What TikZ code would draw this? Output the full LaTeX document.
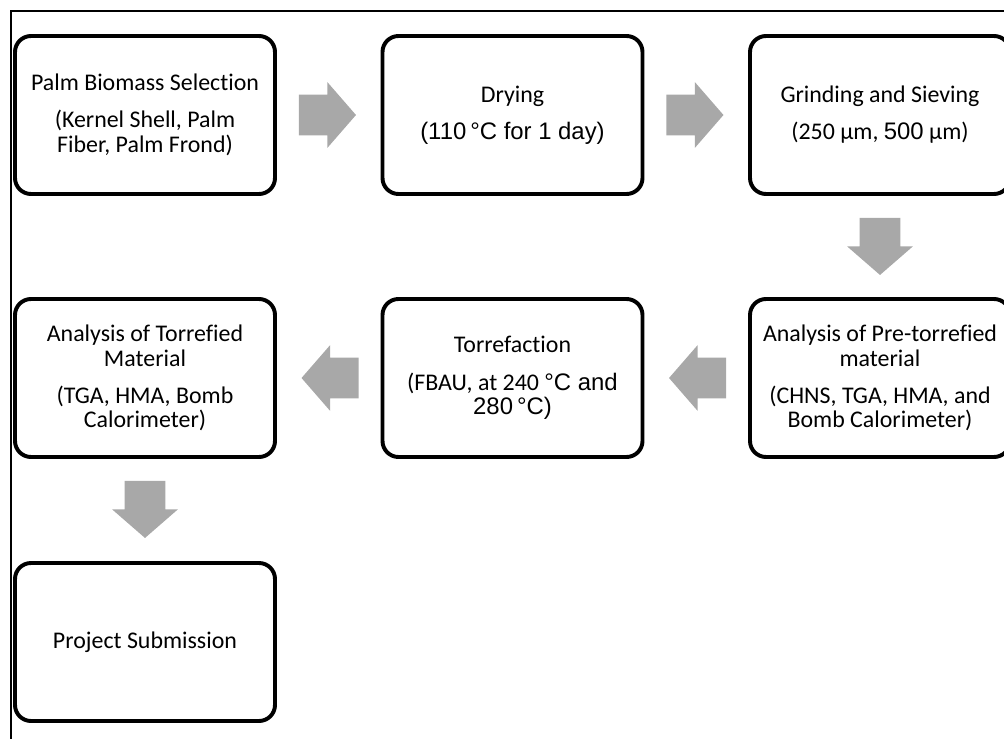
\documentclass[tikz,border=0pt]{standalone}
\usepackage{fontspec}
\setmainfont{Carlito}[Ligatures=NoCommon]
\newfontfamily\arialfont{Liberation Sans}
\usepackage{tikz}
\usetikzlibrary{calc}
\usetikzlibrary{shapes.arrows}
\definecolor{arrowGray}{RGB}{168,168,168}
\tikzset{
  stageBox/.style={%
    draw, line width=2.8pt, rounded corners=0.4cm,
    minimum width=6.5cm, minimum height=3.95cm,
    align=center, inner sep=0pt,
    font=\fontsize{17}{17.5}\selectfont,
  },
  blockArrow/.style={%
    single arrow, fill=arrowGray, draw=none,
    inner xsep=0pt, inner ysep=0.5cm, outer sep=0pt,
    minimum height=1.425cm, anchor=tail,
    single arrow head extend=0.3125cm, single arrow tip angle=98,
  }
}

\begin{document}
\begin{tikzpicture}
          \useasboundingbox (0,0) rectangle (25.1,-18.475);
          \clip (0,0) rectangle (25.1,-18.475);

          % frame
          \draw[line width=1.4pt] (25.2,-0.275) -- (0.275,-0.275) -- (0.275,-18.6);

          \node[stageBox] (selection) at (3.625,-2.875)
            {Palm Biomass Selection\\[9pt](Kernel Shell, Palm\\Fiber, Palm Frond)};
          \node[stageBox] (drying) at (12.8125,-2.875)
            {Drying\\[9pt]{\arialfont (110\,°C for 1 day)}};
          \node[stageBox] (grinding) at (22.0,-2.875)
            {Grinding and Sieving\\[9pt](250 µm, {\arialfont 500} µm)};
          \node[stageBox] (preAnalysis) at (22.0,-9.45)
            {Analysis of Pre-torrefied\\material\\[9pt](CHNS, TGA, HMA, and\\Bomb Calorimeter)};
          \node[stageBox] (torrefaction) at (12.8125,-9.45)
            {Torrefaction\\[9pt](FBAU, at 240 {\arialfont °C and}\\{\arialfont 280\,°C)}};
          \node[stageBox] (postAnalysis) at (3.625,-9.45)
            {Analysis of Torrefied\\Material\\[9pt](TGA, HMA, Bomb\\Calorimeter)};
          \node[stageBox] (submission) at (3.625,-16.05)
            {Project Submission};

          \node[blockArrow] (a1) at ($(selection.east)+(0.55,0)$) {};
          \node[blockArrow] (a2) at ($(drying.east)+(0.55,0)$) {};
          \node[blockArrow,rotate=-90] (a3) at ($(grinding.south)+(0,-0.55)$) {};
          \node[blockArrow,rotate=180] (a4) at ($(preAnalysis.west)+(-0.55,0)$) {};
          \node[blockArrow,rotate=180] (a5) at ($(torrefaction.west)+(-0.55,0)$) {};
          \node[blockArrow,rotate=-90] (a6) at ($(postAnalysis.south)+(0,-0.55)$) {};
        \end{tikzpicture}
\end{document}
